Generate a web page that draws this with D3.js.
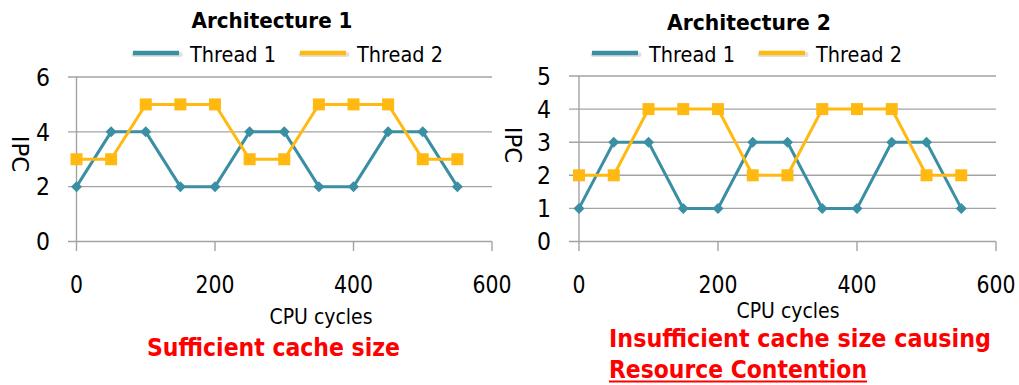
<!DOCTYPE html>
<html>
<head>
<meta charset="utf-8">
<script src="https://cdn.jsdelivr.net/npm/d3@7"></script>
<style>
  html, body { margin: 0; padding: 0; background: #ffffff; }
  svg { display: block; }
  text { font-family: "DejaVu Sans", Verdana, sans-serif; }
</style>
</head>
<body>
<svg id="chart" width="1019" height="385"></svg>
<script>
// CPU cycle sample points shared by both panels
const cycles = [0, 50, 100, 150, 200, 250, 300, 350, 400, 450, 500, 550];

// Architecture 1: enough cache, both threads keep high IPC
const arch1Thread1 = [2, 4, 4, 2, 2, 4, 4, 2, 2, 4, 4, 2];
const arch1Thread2 = [3, 3, 5, 5, 5, 3, 3, 5, 5, 5, 3, 3];

// Architecture 2: cache contention lowers IPC
const arch2Thread1 = [1, 3, 3, 1, 1, 3, 3, 1, 1, 3, 3, 1];
const arch2Thread2 = [2, 2, 4, 4, 4, 2, 2, 4, 4, 4, 2, 2];

const xTicks = [0, 200, 400, 600];
const arch1YTicks = [0, 2, 4, 6];
const arch2YTicks = [0, 1, 2, 3, 4, 5];

const seriesNames = ["Thread 1", "Thread 2"];
const titles = ["Architecture 1", "Architecture 2"];
const captions = [["Sufficient cache size"], ["Insufficient cache size causing", "Resource Contention"]];

const COLORS = { t1: "#3b8fa3", t2: "#ffb910", grid: "#a3a3a3", red: "#ff0000" };

// narrow the wide DejaVu digits to a Tahoma-like width
const DIGIT_W = 13;

const svg = d3.select("#chart");

const panels = [
  {
    t1: arch1Thread1, t2: arch1Thread2, yTicks: arch1YTicks, yMax: 6,
    x0: 76.5, x1: 492, gridLeft: 68, yTop: 77, yBottom: 241.5,
    yLabelX: 43, ipcX: 20, ipcY: 154,
    titleX: 272, titleY: 28, titleW: 161,
    legendX: 133, legendY: 53,
    cpuX: 321, cpuY: 324,
    caption: captions[0], captionX: 147, captionY: [356], captionW: [253]
  },
  {
    t1: arch2Thread1, t2: arch2Thread2, yTicks: arch2YTicks, yMax: 5,
    x0: 579, x1: 996, gridLeft: 569, yTop: 76, yBottom: 241.5,
    yLabelX: 544, ipcX: 513, ipcY: 145,
    titleX: 749, titleY: 30, titleW: 164,
    legendX: 592, legendY: 53,
    cpuX: 788, cpuY: 318,
    caption: captions[1], captionX: 609, captionY: [347, 378], captionW: [382, 258]
  }
];

const diamond = "M0,-5.5L5.5,0L0,5.5L-5.5,0Z";

panels.forEach((p, i) => {
  const g = svg.append("g");

  const x = d3.scaleLinear().domain([0, 600]).range([p.x0, p.x1]);
  const y = d3.scaleLinear().domain([0, p.yMax]).range([p.yBottom, p.yTop]);

  // horizontal gridlines (the 0 line doubles as the category axis)
  g.append("g").selectAll("line")
    .data(p.yTicks)
    .join("line")
    .attr("x1", p.gridLeft).attr("x2", p.x1)
    .attr("y1", d => y(d)).attr("y2", d => y(d))
    .attr("stroke", COLORS.grid).attr("stroke-width", 1.4);

  // vertical value axis
  g.append("line")
    .attr("x1", x(0)).attr("x2", x(0))
    .attr("y1", p.yTop).attr("y2", p.yBottom + 9.5)
    .attr("stroke", COLORS.grid).attr("stroke-width", 1.4);

  // x tick marks below the axis
  g.append("g").selectAll("line")
    .data(xTicks.filter(d => d !== 0))
    .join("line")
    .attr("x1", d => x(d)).attr("x2", d => x(d))
    .attr("y1", p.yBottom).attr("y2", p.yBottom + 9.5)
    .attr("stroke", COLORS.grid).attr("stroke-width", 1.4);

  // x tick labels
  g.append("g").selectAll("text")
    .data(xTicks)
    .join("text")
    .attr("x", d => x(d)).attr("y", 293)
    .attr("text-anchor", "middle")
    .attr("font-size", 24.5)
    .attr("textLength", d => String(d).length * DIGIT_W)
    .attr("lengthAdjust", "spacingAndGlyphs")
    .attr("fill", "#000")
    .text(d => d);

  // y tick labels
  g.append("g").selectAll("text")
    .data(p.yTicks)
    .join("text")
    .attr("x", p.yLabelX).attr("y", d => y(d))
    .attr("dy", "0.36em")
    .attr("text-anchor", "middle")
    .attr("font-size", 24.5)
    .attr("textLength", DIGIT_W + 1)
    .attr("lengthAdjust", "spacingAndGlyphs")
    .attr("fill", "#000")
    .text(d => d);

  // y axis title, rotated clockwise
  g.append("text")
    .attr("transform", `translate(${p.ipcX},${p.ipcY}) rotate(90)`)
    .attr("text-anchor", "middle")
    .attr("dy", "0.35em")
    .attr("font-family", "'Liberation Serif', 'DejaVu Serif', serif")
    .attr("font-size", 23)
    .attr("fill", "#000")
    .text("IPC");

  // chart title
  g.append("text")
    .attr("x", p.titleX).attr("y", p.titleY)
    .attr("text-anchor", "middle")
    .attr("font-size", 21.5)
    .attr("font-weight", "bold")
    .attr("textLength", p.titleW)
    .attr("lengthAdjust", "spacingAndGlyphs")
    .text(titles[i]);

  // legend
  const legend = g.append("g");
  const legendItems = [
    { name: seriesNames[0], color: COLORS.t1, dx: 0 },
    { name: seriesNames[1], color: COLORS.t2, dx: 167 }
  ];
  legendItems.forEach(item => {
    const lx = p.legendX + item.dx;
    legend.append("line")
      .attr("x1", lx + 1).attr("x2", lx + 47)
      .attr("y1", p.legendY + 1.5).attr("y2", p.legendY + 1.5)
      .attr("stroke", "#000").attr("stroke-opacity", 0.12)
      .attr("stroke-width", 5).attr("stroke-linecap", "round");
    legend.append("line")
      .attr("x1", lx).attr("x2", lx + 46)
      .attr("y1", p.legendY).attr("y2", p.legendY)
      .attr("stroke", item.color).attr("stroke-width", 4.5);
    legend.append("text")
      .attr("x", lx + 57).attr("y", p.legendY + 9)
      .attr("font-size", 22)
      .attr("textLength", 86)
      .attr("lengthAdjust", "spacingAndGlyphs")
      .text(item.name);
  });

  // series lines
  const line = d3.line().x((d, k) => x(cycles[k])).y(d => y(d));

  g.append("path")
    .datum(p.t1)
    .attr("d", line)
    .attr("fill", "none")
    .attr("stroke", COLORS.t1)
    .attr("stroke-width", 3);

  g.append("path")
    .datum(p.t2)
    .attr("d", line)
    .attr("fill", "none")
    .attr("stroke", COLORS.t2)
    .attr("stroke-width", 3);

  // Thread 1 diamonds
  g.append("g").selectAll("path")
    .data(p.t1)
    .join("path")
    .attr("transform", (d, k) => `translate(${x(cycles[k])},${y(d)})`)
    .attr("d", diamond)
    .attr("fill", COLORS.t1);

  // Thread 2 squares
  g.append("g").selectAll("rect")
    .data(p.t2)
    .join("rect")
    .attr("x", (d, k) => x(cycles[k]) - 6)
    .attr("y", d => y(d) - 6)
    .attr("width", 12).attr("height", 12)
    .attr("fill", COLORS.t2);

  // x axis title
  g.append("text")
    .attr("x", p.cpuX).attr("y", p.cpuY)
    .attr("text-anchor", "middle")
    .attr("font-size", 21)
    .attr("textLength", 103)
    .attr("lengthAdjust", "spacingAndGlyphs")
    .text("CPU cycles");

  // red caption below the panel
  p.caption.forEach((line, k) => {
    g.append("text")
      .attr("x", p.captionX).attr("y", p.captionY[k])
      .attr("font-size", 24)
      .attr("font-weight", "bold")
      .attr("fill", COLORS.red)
      .attr("textLength", p.captionW[k])
      .attr("lengthAdjust", "spacingAndGlyphs")
      .text(line);
  });

  // underline on the second caption line
  if (p.caption.length > 1) {
    g.append("line")
      .attr("x1", p.captionX).attr("x2", p.captionX + p.captionW[1])
      .attr("y1", p.captionY[1] + 3.5).attr("y2", p.captionY[1] + 3.5)
      .attr("stroke", COLORS.red).attr("stroke-width", 2);
  }
});
</script>
</body>
</html>
